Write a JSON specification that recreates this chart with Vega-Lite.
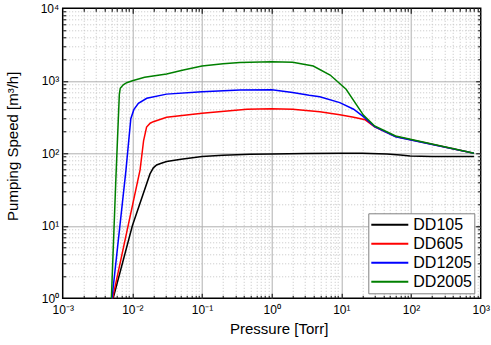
{
  "$schema": "https://vega.github.io/schema/vega-lite/v6.json",
  "width": 418,
  "height": 290,
  "autosize": {"type": "none"},
  "padding": {"left": 62.7, "top": 8.3, "right": 10.3, "bottom": 46.7},
  "config": {
    "font": "Liberation Sans",
    "view": {"stroke": "#000000", "strokeWidth": 1.5},
    "axis": {"labelColor": "#000000", "titleColor": "#000000", "tickColor": "#000000", "titleFontWeight": "normal"}
  },
  "data": {
    "values": [
      {"p": 0.0053, "s": 1, "m": "DD105"},
      {"p": 0.01, "s": 10, "m": "DD105"},
      {"p": 0.0179, "s": 52, "m": "DD105"},
      {"p": 0.02, "s": 63, "m": "DD105"},
      {"p": 0.0223, "s": 69, "m": "DD105"},
      {"p": 0.026, "s": 73, "m": "DD105"},
      {"p": 0.031, "s": 77, "m": "DD105"},
      {"p": 0.05, "s": 83, "m": "DD105"},
      {"p": 0.1, "s": 90, "m": "DD105"},
      {"p": 0.2, "s": 94, "m": "DD105"},
      {"p": 0.49, "s": 97, "m": "DD105"},
      {"p": 1, "s": 98, "m": "DD105"},
      {"p": 3, "s": 99, "m": "DD105"},
      {"p": 9.5, "s": 100, "m": "DD105"},
      {"p": 20, "s": 100, "m": "DD105"},
      {"p": 45, "s": 98, "m": "DD105"},
      {"p": 70, "s": 95, "m": "DD105"},
      {"p": 97, "s": 92, "m": "DD105"},
      {"p": 200, "s": 90, "m": "DD105"},
      {"p": 800, "s": 90, "m": "DD105"},

      {"p": 0.0052, "s": 1, "m": "DD605"},
      {"p": 0.0129, "s": 59, "m": "DD605"},
      {"p": 0.0145, "s": 150, "m": "DD605"},
      {"p": 0.016, "s": 230, "m": "DD605"},
      {"p": 0.018, "s": 260, "m": "DD605"},
      {"p": 0.02, "s": 273, "m": "DD605"},
      {"p": 0.031, "s": 314, "m": "DD605"},
      {"p": 0.1, "s": 356, "m": "DD605"},
      {"p": 0.44, "s": 405, "m": "DD605"},
      {"p": 1, "s": 412, "m": "DD605"},
      {"p": 2, "s": 405, "m": "DD605"},
      {"p": 4.9, "s": 375, "m": "DD605"},
      {"p": 9.5, "s": 339, "m": "DD605"},
      {"p": 15, "s": 315, "m": "DD605"},
      {"p": 22, "s": 290, "m": "DD605"},
      {"p": 30, "s": 232, "m": "DD605"},
      {"p": 60, "s": 170, "m": "DD605"},
      {"p": 800, "s": 100, "m": "DD605"},

      {"p": 0.0051, "s": 1, "m": "DD1205"},
      {"p": 0.0081, "s": 59, "m": "DD1205"},
      {"p": 0.0095, "s": 300, "m": "DD1205"},
      {"p": 0.0105, "s": 400, "m": "DD1205"},
      {"p": 0.0122, "s": 490, "m": "DD1205"},
      {"p": 0.0161, "s": 574, "m": "DD1205"},
      {"p": 0.031, "s": 655, "m": "DD1205"},
      {"p": 0.1, "s": 708, "m": "DD1205"},
      {"p": 0.35, "s": 747, "m": "DD1205"},
      {"p": 1, "s": 750, "m": "DD1205"},
      {"p": 2, "s": 690, "m": "DD1205"},
      {"p": 3.45, "s": 631, "m": "DD1205"},
      {"p": 4.9, "s": 603, "m": "DD1205"},
      {"p": 9.5, "s": 500, "m": "DD1205"},
      {"p": 15, "s": 405, "m": "DD1205"},
      {"p": 20.7, "s": 320, "m": "DD1205"},
      {"p": 30, "s": 233, "m": "DD1205"},
      {"p": 60, "s": 169, "m": "DD1205"},
      {"p": 800, "s": 100, "m": "DD1205"},

      {"p": 0.005, "s": 1, "m": "DD2005"},
      {"p": 0.0058, "s": 45, "m": "DD2005"},
      {"p": 0.0065, "s": 650, "m": "DD2005"},
      {"p": 0.0067, "s": 790, "m": "DD2005"},
      {"p": 0.0074, "s": 880, "m": "DD2005"},
      {"p": 0.0083, "s": 942, "m": "DD2005"},
      {"p": 0.01, "s": 1000, "m": "DD2005"},
      {"p": 0.015, "s": 1120, "m": "DD2005"},
      {"p": 0.031, "s": 1240, "m": "DD2005"},
      {"p": 0.054, "s": 1410, "m": "DD2005"},
      {"p": 0.1, "s": 1600, "m": "DD2005"},
      {"p": 0.2, "s": 1720, "m": "DD2005"},
      {"p": 0.35, "s": 1790, "m": "DD2005"},
      {"p": 1, "s": 1830, "m": "DD2005"},
      {"p": 2, "s": 1800, "m": "DD2005"},
      {"p": 3.95, "s": 1600, "m": "DD2005"},
      {"p": 6.9, "s": 1200, "m": "DD2005"},
      {"p": 11.7, "s": 764, "m": "DD2005"},
      {"p": 20.7, "s": 337, "m": "DD2005"},
      {"p": 30, "s": 238, "m": "DD2005"},
      {"p": 60, "s": 173, "m": "DD2005"},
      {"p": 800, "s": 100, "m": "DD2005"}
    ]
  },
  "resolve": {"axis": {"x": "independent", "y": "independent"}},
  "layer": [
    {
      "mark": {"type": "point", "opacity": 0},
      "encoding": {
        "x": {"field": "p", "type": "quantitative", "scale": {"type": "log", "domain": [0.001, 1000], "nice": false},
          "axis": {"orient": "bottom", "values": [0.002,0.003,0.004,0.005,0.006,0.007,0.008,0.009,0.02,0.03,0.04,0.05,0.06,0.07,0.08,0.09,0.2,0.3,0.4,0.5,0.6,0.7,0.8,0.9,2,3,4,5,6,7,8,9,20,30,40,50,60,70,80,90,200,300,400,500,600,700,800,900],
            "grid": true, "gridColor": "#c4c4c4", "gridDash": [1, 2], "gridWidth": 1, "tickSize": -3, "tickWidth": 1, "labels": false, "domain": false, "title": null}},
        "y": {"field": "s", "type": "quantitative", "scale": {"type": "log", "domain": [1, 10000], "nice": false},
          "axis": {"orient": "left", "values": [2,3,4,5,6,7,8,9,20,30,40,50,60,70,80,90,200,300,400,500,600,700,800,900,2000,3000,4000,5000,6000,7000,8000,9000],
            "grid": true, "gridColor": "#c4c4c4", "gridDash": [1, 2], "gridWidth": 1, "tickSize": -3, "tickWidth": 1, "labels": false, "domain": false, "title": null}}
      }
    },
    {
      "mark": {"type": "point", "opacity": 0},
      "encoding": {
        "x": {"field": "p", "type": "quantitative", "scale": {"type": "log", "domain": [0.001, 1000], "nice": false},
          "axis": {"orient": "bottom", "values": [0.01, 0.1, 1, 10, 100],
            "grid": true, "gridColor": "#b0b0b0", "gridWidth": 1, "tickSize": -5, "tickWidth": 1, "labels": false, "domain": false, "title": null}},
        "y": {"field": "s", "type": "quantitative", "scale": {"type": "log", "domain": [1, 10000], "nice": false},
          "axis": {"orient": "left", "values": [10, 100, 1000],
            "grid": true, "gridColor": "#b0b0b0", "gridWidth": 1, "tickSize": -5, "tickWidth": 1, "labels": false, "domain": false, "title": null}}
      }
    },
    {
      "mark": {"type": "point", "opacity": 0},
      "encoding": {
        "x": {"field": "p", "type": "quantitative", "scale": {"type": "log", "domain": [0.001, 1000], "nice": false},
          "axis": {"orient": "top", "values": [0.002,0.003,0.004,0.005,0.006,0.007,0.008,0.009,0.02,0.03,0.04,0.05,0.06,0.07,0.08,0.09,0.2,0.3,0.4,0.5,0.6,0.7,0.8,0.9,2,3,4,5,6,7,8,9,20,30,40,50,60,70,80,90,200,300,400,500,600,700,800,900],
            "grid": false, "tickSize": -3, "tickWidth": 1, "labels": false, "domain": false, "title": null}},
        "y": {"field": "s", "type": "quantitative", "scale": {"type": "log", "domain": [1, 10000], "nice": false},
          "axis": {"orient": "right", "values": [2,3,4,5,6,7,8,9,20,30,40,50,60,70,80,90,200,300,400,500,600,700,800,900,2000,3000,4000,5000,6000,7000,8000,9000],
            "grid": false, "tickSize": -3, "tickWidth": 1, "labels": false, "domain": false, "title": null}}
      }
    },
    {
      "mark": {"type": "point", "opacity": 0},
      "encoding": {
        "x": {"field": "p", "type": "quantitative", "scale": {"type": "log", "domain": [0.001, 1000], "nice": false},
          "axis": {"orient": "top", "values": [0.01, 0.1, 1, 10, 100],
            "grid": false, "tickSize": -5, "tickWidth": 1, "labels": false, "domain": false, "title": null}},
        "y": {"field": "s", "type": "quantitative", "scale": {"type": "log", "domain": [1, 10000], "nice": false},
          "axis": {"orient": "right", "values": [10, 100, 1000],
            "grid": false, "tickSize": -5, "tickWidth": 1, "labels": false, "domain": false, "title": null}}
      }
    },
    {
      "mark": {"type": "line", "strokeWidth": 1.5},
      "encoding": {
        "x": {"field": "p", "type": "quantitative", "scale": {"type": "log", "domain": [0.001, 1000], "nice": false},
          "axis": {"orient": "bottom", "values": [0.001, 0.01, 0.1, 1, 10, 100, 1000],
            "labelExpr": "['10⁻³','10⁻²','10⁻¹','10⁰','10¹','10²','10³'][round(log(datum.value)/LN10)+3]",
            "labelFontSize": 12, "labelPadding": 6, "labelFlush": false, "labelOverlap": false,
            "grid": false, "ticks": false, "tickSize": 0, "domain": false,
            "title": "Pressure [Torr]", "titleFontSize": 15, "titleX": 216, "titleY": 35, "titleBaseline": "alphabetic", "titleAlign": "center"}},
        "y": {"field": "s", "type": "quantitative", "scale": {"type": "log", "domain": [1, 10000], "nice": false},
          "axis": {"orient": "left", "values": [1, 10, 100, 1000, 10000],
            "labelExpr": "['10⁰','10¹','10²','10³','10⁴'][round(log(datum.value)/LN10)]",
            "labelFontSize": 12, "labelPadding": 4, "labelFlush": false, "labelOverlap": false,
            "grid": false, "ticks": false, "tickSize": 0, "domain": false,
            "title": "Pumping Speed [m³/h]", "titleFontSize": 15, "titleX": -45, "titleY": 137.5, "titleBaseline": "alphabetic", "titleAlign": "center", "titleAngle": -90}},
        "color": {"field": "m", "type": "nominal",
          "scale": {"domain": ["DD105", "DD605", "DD1205", "DD2005"], "range": ["#000000", "#ff0000", "#0000ff", "#008000"]},
          "legend": {"orient": "none", "legendX": 305.6, "legendY": 205, "title": null,
            "symbolType": "stroke", "symbolSize": 1369, "symbolStrokeWidth": 2, "clipHeight": 19, "rowPadding": 0,
            "labelOffset": 4, "labelFontSize": 16, "labelColor": "#000000", "labelFont": "Liberation Sans", "labelLimit": 0,
            "padding": 2, "strokeColor": "#808080", "fillColor": "#ffffff"}}
      }
    }
  ]
}
